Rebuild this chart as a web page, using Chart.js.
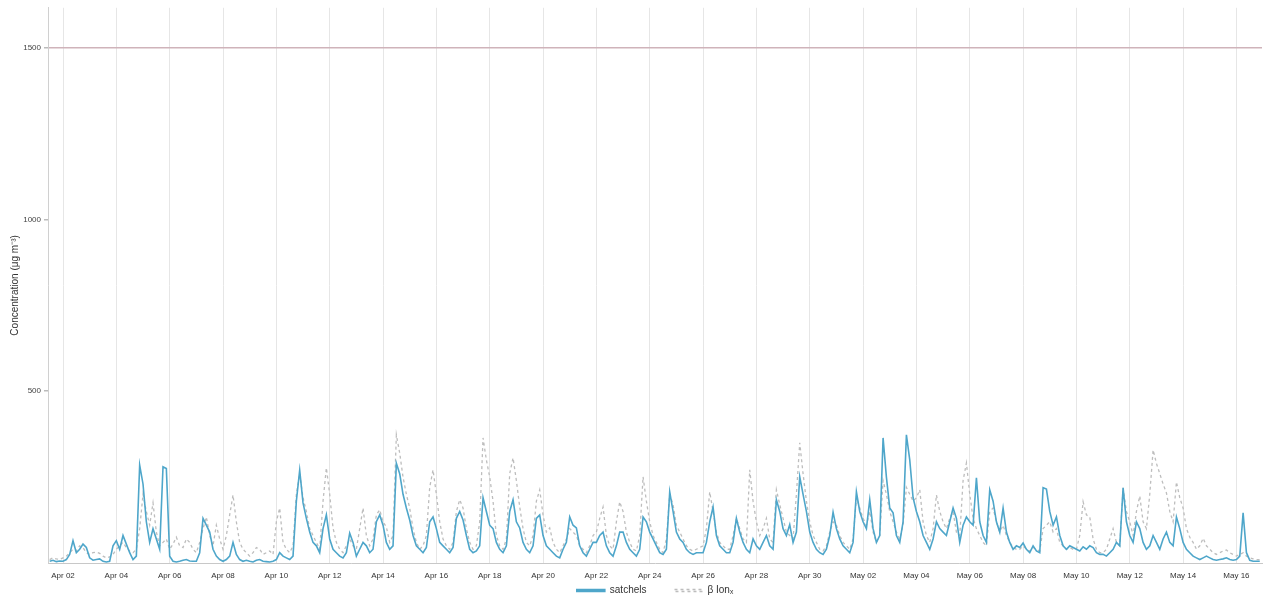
<!DOCTYPE html>
<html>
<head>
<meta charset="utf-8">
<script src="https://cdn.jsdelivr.net/npm/chart.js@4.4.0/dist/chart.umd.min.js"></script>
<style>
  html, body { margin: 0; padding: 0; background: #fff; }
  #wrap { width: 1271px; height: 596px; }
</style>
</head>
<body>
<div id="wrap"><canvas id="chart" width="1271" height="596"></canvas></div>
<script>
// hours counted from Apr 01 00:00, one value every 3 h
const startHour = 12;
const stepHours = 3;

const tickHours = [24, 72, 120, 168, 216, 264, 312, 360, 408, 456, 504, 552,
  600, 648, 696, 744, 792, 840, 888, 936, 984, 1032, 1080];
const tickLabels = ["Apr 02", "Apr 04", "Apr 06", "Apr 08", "Apr 10", "Apr 12",
  "Apr 14", "Apr 16", "Apr 18", "Apr 20", "Apr 22", "Apr 24", "Apr 26", "Apr 28",
  "Apr 30", "May 02", "May 04", "May 06", "May 08", "May 10", "May 12", "May 14",
  "May 16"];
const yTicks = [500, 1000, 1500];

// blue solid series
const satchels = [
  5, 8, 4, 6,                              // Apr 01 (from 12h)
  5, 10, 25, 65, 30, 40, 55, 45,           // Apr 02
  15, 8, 10, 12, 5, 3, 5, 50,              // Apr 03
  65, 40, 80, 55, 30, 10, 20, 285,         // Apr 04
  230, 120, 60, 100, 70, 40, 280, 275,     // Apr 05
  20, 5, 3, 5, 8, 10, 6, 5,                // Apr 06
  5, 30, 130, 110, 90, 40, 20, 10,         // Apr 07
  5, 10, 20, 60, 25, 10, 5, 8,             // Apr 08
  5, 3, 8, 10, 5, 4, 3, 5,                 // Apr 09
  10, 30, 20, 15, 10, 20, 180, 270,        // Apr 10
  175, 130, 90, 60, 50, 30, 100, 140,      // Apr 11
  70, 40, 30, 20, 15, 30, 87, 60,          // Apr 12
  20, 40, 60, 50, 30, 40, 120, 140,        // Apr 13
  110, 60, 40, 50, 290, 260, 200, 160,     // Apr 14
  125, 80, 50, 40, 30, 45, 120, 134,       // Apr 15
  100, 60, 50, 40, 30, 45, 130, 150,       // Apr 16
  125, 80, 40, 30, 35, 50, 190, 150,       // Apr 17
  110, 100, 60, 40, 30, 50, 150, 184,      // Apr 18
  120, 102, 60, 40, 30, 50, 130, 140,      // Apr 19
  80, 50, 40, 30, 20, 15, 40, 60,          // Apr 20
  134, 110, 102, 50, 30, 20, 40, 60,       // Apr 21
  60, 80, 90, 50, 30, 20, 50, 90,          // Apr 22
  90, 60, 40, 30, 20, 40, 134, 120,        // Apr 23
  90, 70, 50, 30, 25, 40, 207, 150,        // Apr 24
  90, 70, 60, 40, 30, 25, 30, 30,          // Apr 25
  30, 60, 120, 163, 80, 50, 40, 30,        // Apr 26
  30, 60, 130, 90, 60, 40, 30, 70,         // Apr 27
  50, 40, 60, 80, 50, 40, 184, 150,        // Apr 28
  100, 80, 112, 60, 90, 251, 200, 150,     // Apr 29
  90, 60, 40, 30, 25, 40, 80, 148,         // Apr 30
  100, 70, 50, 40, 30, 60, 207, 150,       // May 01
  120, 100, 184, 100, 60, 80, 364, 250,    // May 02
  160, 146, 80, 60, 120, 373, 300, 190,    // May 03
  150, 120, 80, 60, 40, 70, 120, 100,      // May 04
  90, 80, 120, 160, 130, 60, 110, 134,     // May 05
  120, 110, 248, 120, 80, 60, 213, 180,    // May 06
  120, 90, 160, 90, 60, 40, 50, 45,        // May 07
  58, 40, 30, 50, 35, 30, 219, 215,        // May 08
  150, 110, 134, 80, 50, 40, 50, 45,       // May 09
  40, 35, 47, 40, 50, 45, 30, 25,          // May 10
  25, 20, 30, 40, 60, 50, 219, 120,        // May 11
  80, 60, 120, 100, 60, 40, 50, 80,        // May 12
  60, 40, 70, 90, 60, 50, 134, 100,        // May 13
  60, 40, 30, 20, 15, 10, 15, 20,          // May 14
  15, 10, 8, 10, 12, 15, 10, 8,            // May 15
  10, 20, 146, 30, 8, 5, 5, 5              // May 16
];

// grey dashed series
const betaIon = [
  10, 15, 12, 10,
  15, 20, 30, 40, 35, 50, 45, 30,
  25, 30, 32, 28, 20, 15, 18, 25,
  40, 50, 60, 45, 35, 30, 40, 100,
  200, 150, 110, 175, 90, 50, 60, 70,
  40, 55, 75, 50, 45, 70, 60, 40,
  30, 60, 100, 134, 80, 50, 110, 70,
  40, 80, 140, 198, 120, 60, 40, 30,
  20, 30, 45, 40, 25, 30, 35, 25,
  120, 160, 60, 40, 30, 50, 200, 260,
  190, 150, 100, 80, 60, 40, 180, 277,
  200, 102, 60, 40, 30, 50, 70, 50,
  40, 100, 160, 80, 50, 70, 140, 155,
  120, 105, 60, 80, 373, 320, 250, 200,
  160, 100, 60, 40, 50, 80, 220, 271,
  200, 120, 70, 50, 40, 60, 150, 184,
  160, 100, 60, 40, 50, 120, 364, 300,
  250, 180, 80, 50, 40, 70, 260, 306,
  240, 163, 100, 60, 50, 80, 180, 213,
  140, 90, 102, 60, 40, 30, 50, 70,
  100, 90, 80, 50, 40, 30, 50, 80,
  90, 130, 163, 80, 50, 40, 120, 178,
  150, 90, 60, 40, 35, 80, 251, 180,
  120, 80, 60, 40, 30, 70, 200, 170,
  110, 90, 70, 50, 40, 35, 40, 45,
  50, 100, 207, 150, 90, 60, 50, 40,
  40, 80, 130, 100, 70, 60, 271, 180,
  120, 80, 100, 130, 70, 60, 213, 170,
  130, 90, 80, 70, 200, 350, 260, 180,
  120, 80, 60, 40, 35, 50, 90, 120,
  110, 80, 60, 50, 40, 70, 190, 160,
  130, 110, 150, 90, 60, 80, 240, 200,
  150, 120, 90, 70, 110, 220, 200, 180,
  190, 213, 120, 80, 60, 100, 198, 150,
  120, 100, 130, 150, 90, 80, 240, 291,
  200, 130, 100, 80, 60, 50, 150, 160,
  120, 90, 110, 80, 60, 45, 40, 40,
  50, 40, 35, 45, 40, 35, 100, 110,
  120, 90, 100, 60, 50, 40, 45, 40,
  40, 80, 178, 140, 134, 70, 40, 30,
  30, 40, 70, 100, 60, 50, 219, 150,
  120, 80, 150, 195, 120, 100, 200, 329,
  290, 260, 230, 204, 150, 120, 236, 190,
  160, 100, 75, 60, 40, 50, 72, 50,
  40, 30, 25, 30, 35, 38, 30, 25,
  20, 25, 30, 20, 15, 12, 10, 10
];

const toPoints = (arr) => arr.map((v, i) => ({ x: startHour + i * stepHours, y: v }));

const blue = "#4ea6ca";
const grey = "#bdbdbd";
const fontFamily = "'Liberation Sans', Arial, sans-serif";
const legendGap = 28;

// keep the legend items spread apart but only reserve a thin strip for it,
// and center it under the plot area
const legendStrip = {
  id: "legendStrip",
  afterInit(chart) {
    const lg = chart.legend;
    const fit = lg.fit;
    lg.fit = function () {
      fit.call(this);
      this.height = 11;
    };
  },
  afterLayout(chart) {
    const lg = chart.legend;
    lg.top = lg.bottom - 5.5 - legendGap - 5;
    lg.left = chart.chartArea.left;
    lg.right = chart.chartArea.right;
  }
};

new Chart(document.getElementById("chart"), {
  type: "line",
  plugins: [legendStrip],
  data: {
    datasets: [
      {
        label: "satchels",
        data: toPoints(satchels),
        borderColor: blue,
        backgroundColor: blue,
        borderWidth: 1.6,
        pointRadius: 0,
        tension: 0
      },
      {
        label: "β Ionₓ",
        data: toPoints(betaIon),
        borderColor: grey,
        backgroundColor: "#ffffff",
        borderWidth: 1.3,
        borderDash: [3, 3],
        pointRadius: 0,
        tension: 0
      }
    ]
  },
  options: {
    responsive: false,
    animation: false,
    layout: { padding: { top: 2, right: 9, left: 0, bottom: 0 } },
    plugins: {
      tooltip: { enabled: false },
      legend: {
        position: "bottom",
        labels: {
          boxWidth: 28,
          boxHeight: 2,
          padding: legendGap,
          color: "#333",
          font: { family: fontFamily, size: 10 }
        }
      }
    },
    scales: {
      x: {
        type: "linear",
        min: 10.5,
        max: 1103,
        afterBuildTicks: (scale) => {
          scale.ticks = tickHours.map((h) => ({ value: h }));
        },
        afterFit: (scale) => { scale.height = 22; },
        ticks: {
          autoSkip: false,
          maxRotation: 0,
          color: "#333",
          font: { family: fontFamily, size: 8 },
          padding: 8,
          callback: (value, index) => tickLabels[index]
        },
        grid: { color: "#e6e6e6", lineWidth: 1, drawTicks: false },
        border: { color: "#c8c8c8" }
      },
      y: {
        min: 0,
        max: 1616,
        afterBuildTicks: (scale) => {
          scale.ticks = yTicks.map((v) => ({ value: v }));
        },
        afterFit: (scale) => { scale.width = 48; },
        ticks: {
          color: "#444",
          font: { family: fontFamily, size: 8 },
          padding: 3,
          callback: (value) => String(value)
        },
        grid: {
          color: (ctx) => (ctx.tick && ctx.tick.value === 1500 ? "#cfb3ba" : "rgba(0,0,0,0)"),
          lineWidth: 1.5,
          tickLength: 4,
          tickColor: "#bbb"
        },
        border: { color: "#d0d0d0" },
        title: {
          display: true,
          text: "Concentration (μg m⁻³)",
          color: "#333",
          font: { family: fontFamily, size: 10 },
          padding: { top: 9, bottom: 4 }
        }
      }
    }
  }
});
</script>
</body>
</html>
